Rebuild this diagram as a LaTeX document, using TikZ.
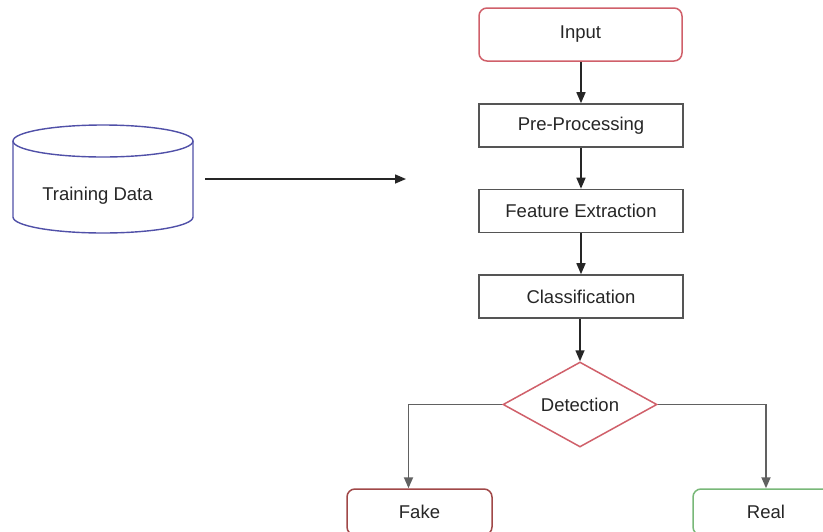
\documentclass[tikz,border=0pt]{standalone}
\usepackage{fontspec}
\setmainfont{Liberation Sans}
\usetikzlibrary{arrows.meta,shapes.geometric}
\definecolor{boxgray}{HTML}{555555}
\definecolor{inred}{HTML}{D0606A}
\definecolor{fakered}{HTML}{A04848}
\definecolor{realgreen}{HTML}{78B878}
\definecolor{cylblue}{HTML}{5050A8}
\definecolor{txt}{HTML}{262626}
\tikzset{
  lbl/.style={font=\fontsize{18.5}{22}\selectfont, text=txt},
  procbox/.style={lbl, draw=boxgray, line width=1.6pt, minimum width=204pt, minimum height=43pt},
  roundbox/.style={lbl, draw, rounded corners=8pt, line width=1.5pt},
  arr/.style={draw=black!85, line width=1.5pt, -{Triangle[length=11pt,width=9pt]}},
  brarr/.style={draw=black!62, line width=1.8pt, -{Triangle[length=11pt,width=9pt]}},
}
\begin{document}
\begin{tikzpicture}[x=1pt,y=-1pt]
\useasboundingbox (0,0) rectangle (823,531);
\clip (0,0) rectangle (823,531);
\fill[white] (0,0) rectangle (823,531);
% cylinder
\draw[cylblue, line width=1.4pt] (13,141) -- (13,217) arc[start angle=180, end angle=0, x radius=90, y radius=16] -- (193,141);
\draw[cylblue, line width=1.4pt] (103,141) ellipse[x radius=90, y radius=16];
\node[lbl, minimum width=180pt, minimum height=108pt, inner sep=0pt] (train) at (103,179) {};
\node[lbl] (trainlbl) at (97.5,196) {Training Data};
\coordinate (tgt) at (406,179);
\draw[arr] ([xshift=12pt]train.east) -- (tgt);
% main flow
\node[roundbox, draw=inred, minimum width=203pt, minimum height=53pt] (input) at (580.5,34.5) {Input};
\node[procbox] (pre) at (581,125.5) {Pre-Processing};
\node[procbox] (feat) at (581,211) {Feature Extraction};
\node[procbox] (cls) at (581,296.5) {Classification};
\node[lbl, diamond, draw=inred, line width=1.5pt, minimum width=154pt, minimum height=85pt, inner sep=0pt, aspect=1.8] (det) at (580,404.5) {Detection};
\node[roundbox, draw=fakered, minimum width=145pt, minimum height=46pt] (fake) at (419.5,512) {Fake};
\node[roundbox, draw=realgreen, minimum width=146pt, minimum height=46pt] (real) at (766,512) {Real};
\draw[arr] (input.south -| pre.north) -- (pre.north);
\draw[arr] (pre) -- (feat);
\draw[arr] (feat) -- (cls);
\draw[arr] (cls.south -| det.north) -- (det.north);
\draw[brarr] (det.west) -| ([xshift=-11pt]fake.north);
\draw[brarr] (det.east) -| (real.north);
\end{tikzpicture}
\end{document}
